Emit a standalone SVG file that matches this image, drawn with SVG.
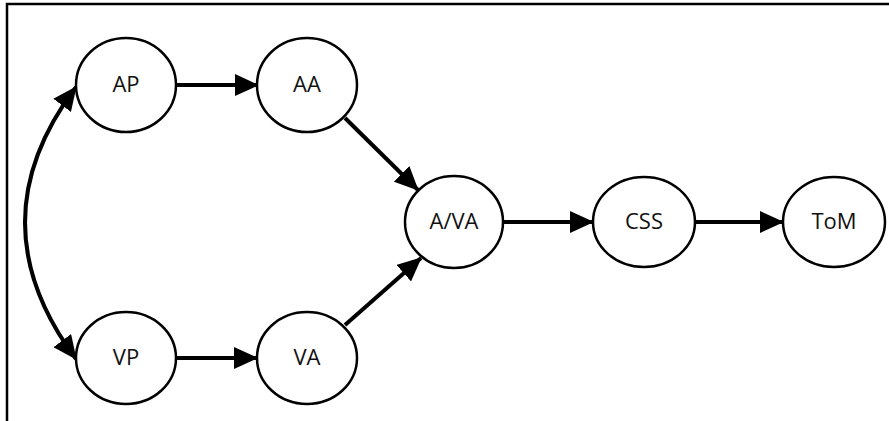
<svg xmlns="http://www.w3.org/2000/svg" width="889" height="421" viewBox="0 0 889 421">
<defs>
<style>
.node ellipse{fill:#fff;stroke:#000;stroke-width:2.5}
.node text{font-family:"Open Sans","Liberation Sans",sans-serif;font-size:22px;fill:#111;text-anchor:middle}
.edge{fill:none;stroke:#000;stroke-width:4}
</style>
<marker id="ah" markerUnits="userSpaceOnUse" markerWidth="24" markerHeight="22" refX="23" refY="11" orient="auto-start-reverse" viewBox="0 0 24 22">
<path d="M0,0 L24,11 L0,22 z" fill="#000"/>
</marker>
</defs>
<rect width="889" height="421" fill="#fff"/>
<g id="frame" stroke="#000" stroke-width="2.5" fill="none">
<path d="M7,421 V4 H889"/>
</g>
<g id="connectors">
<path class="edge" d="M76,87 Q-26,222 76,359" marker-start="url(#ah)" marker-end="url(#ah)"/>
<path class="edge" d="M176,85 H258" marker-end="url(#ah)"/>
<path class="edge" d="M176,358 H257" marker-end="url(#ah)"/>
<path class="edge" d="M345,118 L418,190" marker-end="url(#ah)"/>
<path class="edge" d="M345,325 L421,258" marker-end="url(#ah)"/>
<path class="edge" d="M503,222 H593" marker-end="url(#ah)"/>
<path class="edge" d="M695,222 H783" marker-end="url(#ah)"/>
</g>
<g id="AP" class="node"><ellipse cx="126" cy="85" rx="50" ry="47"/><text x="126" y="92">AP</text></g>
<g id="AA" class="node"><ellipse cx="307" cy="85" rx="50" ry="47"/><text x="307" y="92">AA</text></g>
<g id="AVA" class="node"><ellipse cx="454" cy="222" rx="49" ry="46"/><text x="454" y="229">A/VA</text></g>
<g id="CSS" class="node"><ellipse cx="644" cy="222" rx="51" ry="45"/><text x="644" y="229">CSS</text></g>
<g id="ToM" class="node"><ellipse cx="834" cy="222" rx="51" ry="45"/><text x="834" y="229">ToM</text></g>
<g id="VP" class="node"><ellipse cx="126" cy="358" rx="50" ry="46"/><text x="126" y="365">VP</text></g>
<g id="VA" class="node"><ellipse cx="307" cy="358" rx="50" ry="46"/><text x="307" y="365">VA</text></g>
</svg>
